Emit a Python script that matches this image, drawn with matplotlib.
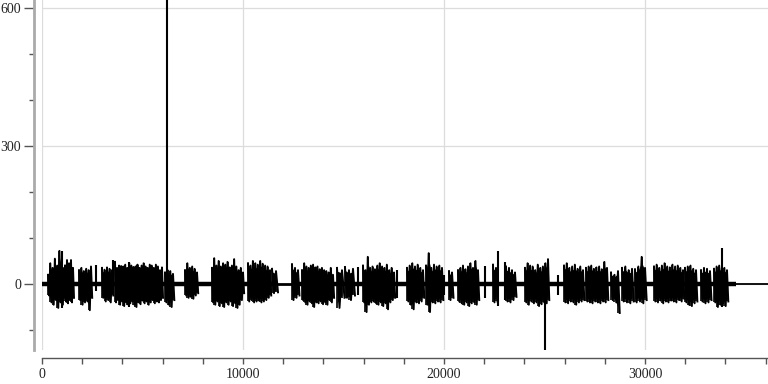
import numpy as np
import matplotlib
matplotlib.use("Agg")
import matplotlib.pyplot as plt
from matplotlib.ticker import MultipleLocator

# burst start / end (samples) and the upper / lower envelope read across each burst
burst_start = [299, 1144, 1841, 2985, 3632, 6119, 7114, 8458, 10249, 11443,
               12438, 12935, 14676, 15074, 15970, 18159, 19104, 20248, 20696, 22437,
               23084, 24029, 25970, 27064, 28308, 28855, 29502, 30448, 31989, 32785,
               33432]
burst_end = [1095, 1542, 2438, 3483, 5970, 6517, 7711, 10000, 11343, 11642,
             12736, 14477, 14925, 15472, 17512, 18955, 19900, 20398, 21691, 22587,
             23532, 25174, 26915, 28109, 28656, 29353, 30000, 31890, 32537, 33233,
             34079]
burst_hi = [
    [20, 45, 35, 55, 40, 72, 45, 35],
    [40, 52, 45, 52, 35],
    [30, 35, 28, 33, 30, 38],
    [35, 31, 36, 33, 30],
    [48, 35, 40, 39, 38, 42, 35, 45, 40, 37, 38, 42, 35, 40, 45, 38, 35, 42, 40, 35, 42, 38, 30, 36],
    [25, 30, 28, 22],
    [30, 45, 35, 38, 33, 25],
    [35, 56, 40, 50, 38, 45, 42, 48, 36, 40, 54, 38, 30, 35, 25],
    [45, 40, 50, 45, 42, 50, 44, 40, 38, 30],
    [33, 28],
    [43, 35, 30],
    [30, 45, 38, 35, 40, 42, 36, 38, 32, 35, 30, 28, 25, 35, 20],
    [35, 30],
    [37, 30, 33],
    [40, 30, 59, 35, 38, 32, 40, 45, 38, 35, 42, 30, 35, 25],
    [35, 40, 45, 38, 42, 35, 30],
    [40, 67, 35, 42, 38, 40, 35],
    [28, 25],
    [30, 35, 40, 32, 38, 45, 35, 50, 30],
    [42, 35],
    [38, 35, 30, 25],
    [35, 45, 40, 38, 30, 42, 35, 38, 45, 54],
    [40, 45, 35, 38, 42, 33, 38, 30],
    [35, 38, 40, 33, 36, 38, 32, 48, 35],
    [25, 20, 28],
    [35, 38, 30, 33],
    [32, 38, 59, 35],
    [38, 42, 35, 40, 45, 38, 36, 42, 38, 40, 35, 30],
    [35, 38, 40, 33, 30],
    [30, 35, 33, 28],
    [33, 38, 40, 35, 35, 30],
]
burst_lo = [
    [-25, -40, -45, -35, -52, -40, -45, -30],
    [-38, -42, -35, -40, -30],
    [-35, -45, -40, -38, -57, -30],
    [-30, -38, -35, -40, -25],
    [-40, -35, -45, -38, -48, -40, -45, -42, -38, -45, -50, -40, -44, -36, -42, -38, -45, -40, -35, -42, -38, -40, -35, -30],
    [-40, -45, -50, -35],
    [-25, -30, -28, -32, -25, -20],
    [-40, -45, -38, -48, -42, -50, -40, -45, -38, -48, -42, -52, -45, -35, -20],
    [-38, -35, -40, -38, -36, -40, -38, -35, -30, -25],
    [-20, -18],
    [-35, -30, -25],
    [-35, -40, -45, -38, -42, -50, -40, -42, -38, -44, -40, -45, -35, -40, -30],
    [-52, -30],
    [-30, -35, -25],
    [-40, -61, -45, -40, -38, -42, -45, -40, -48, -42, -55, -40, -35, -30],
    [-38, -45, -55, -40, -42, -38, -30],
    [-45, -61, -40, -42, -38, -40, -35],
    [-35, -30],
    [-38, -42, -45, -40, -48, -42, -40, -45, -35],
    [-40, -38],
    [-38, -40, -35, -28],
    [-40, -45, -38, -42, -40, -48, -44, -40, -42, -35],
    [-40, -42, -38, -40, -45, -40, -38, -35],
    [-38, -40, -42, -38, -40, -42, -38, -40, -35],
    [-35, -40, -63],
    [-38, -40, -42, -38],
    [-40, -38, -42, -35],
    [-38, -40, -36, -42, -38, -40, -36, -38, -40, -35, -38, -32],
    [-40, -45, -48, -42, -38],
    [-38, -42, -40, -35],
    [-40, -50, -45, -42, -48, -38],
]

# isolated spikes: position, top, bottom
spike_x = [2687, 3532, 6219, 15721, 17661, 19998, 22039, 22686, 23034, 25024, 25671, 33830, 4350, 1000]
spike_hi = [41, 52, 617, 37, 30, 20, 40, 72, 47, 10, 20, 78, 48, 72]
spike_lo = [-15, -12, -10, -25, -30, -25, -30, -47, -35, -143, -25, -50, -50, -52]

x_end_active = 34527
x_end = 36119

PX = 72 / 100  # one pixel in points

fig = plt.figure(figsize=(7.68, 3.84), dpi=100)
ax = fig.add_axes([42 / 768, 1 - 350 / 384, 1 - 42 / 768, 350 / 384])

ax.grid(True, color="#dcdcdc", lw=0.9)
ax.set_axisbelow(True)

# baseline noise between the bursts
ax.plot([0, 11642], [0, 0], color="black", lw=3.2, solid_capstyle="butt")
ax.plot([11642, 12438], [0, 0], color="black", lw=2.0, solid_capstyle="butt")
ax.plot([12438, x_end_active], [0, 0], color="black", lw=3.2, solid_capstyle="butt")
ax.plot([x_end_active, x_end], [0, 0], color="black", lw=1.3)

for s, e, hi, lo in zip(burst_start, burst_end, burst_hi, burst_lo):
    xs = np.linspace(s, e, len(hi))
    step = (e - s) / max(len(hi) - 1, 1)
    # waveform: up to the upper envelope, down to the lower one
    wx = np.ravel(np.column_stack([xs, xs + step * 0.5]))
    wy = np.ravel(np.column_stack([hi, lo]))
    ax.plot(wx, wy, color="black", lw=1.4)
    ax.fill_between(xs, np.array(lo) * 0.8, np.array(hi) * 0.8, color="black", lw=0)
    ax.vlines(xs, lo, hi, color="black", lw=1.2)

ax.vlines(spike_x, spike_lo, spike_hi, color="black", lw=1.5)

ax.set_xlim(0, x_end)
ax.set_ylim(-143.5, 617.4)

ax.xaxis.set_major_locator(MultipleLocator(10000))
ax.xaxis.set_minor_locator(MultipleLocator(2000))
ax.yaxis.set_major_locator(MultipleLocator(300))
ax.yaxis.set_minor_locator(MultipleLocator(100))

for side in ("top", "right"):
    ax.spines[side].set_visible(False)
ax.spines["left"].set_position(("outward", 8 * PX))
ax.spines["left"].set_color("#aaaaaa")
ax.spines["left"].set_linewidth(2.0)
ax.spines["bottom"].set_position(("outward", 8 * PX))
ax.spines["bottom"].set_color("#555555")
ax.spines["bottom"].set_linewidth(1.0)

ax.tick_params(axis="y", which="major", length=10 * PX, width=1.0, color="#555555", pad=2)
ax.tick_params(axis="y", which="minor", length=5 * PX, width=1.0, color="#555555")
ax.tick_params(axis="x", which="both", length=6 * PX, width=1.0, color="#555555", pad=3)

for lab in ax.get_xticklabels() + ax.get_yticklabels():
    lab.set_fontfamily("Liberation Serif")
    lab.set_fontsize(10)
    lab.set_color("#222222")

fig.savefig("out.png", dpi=100)
